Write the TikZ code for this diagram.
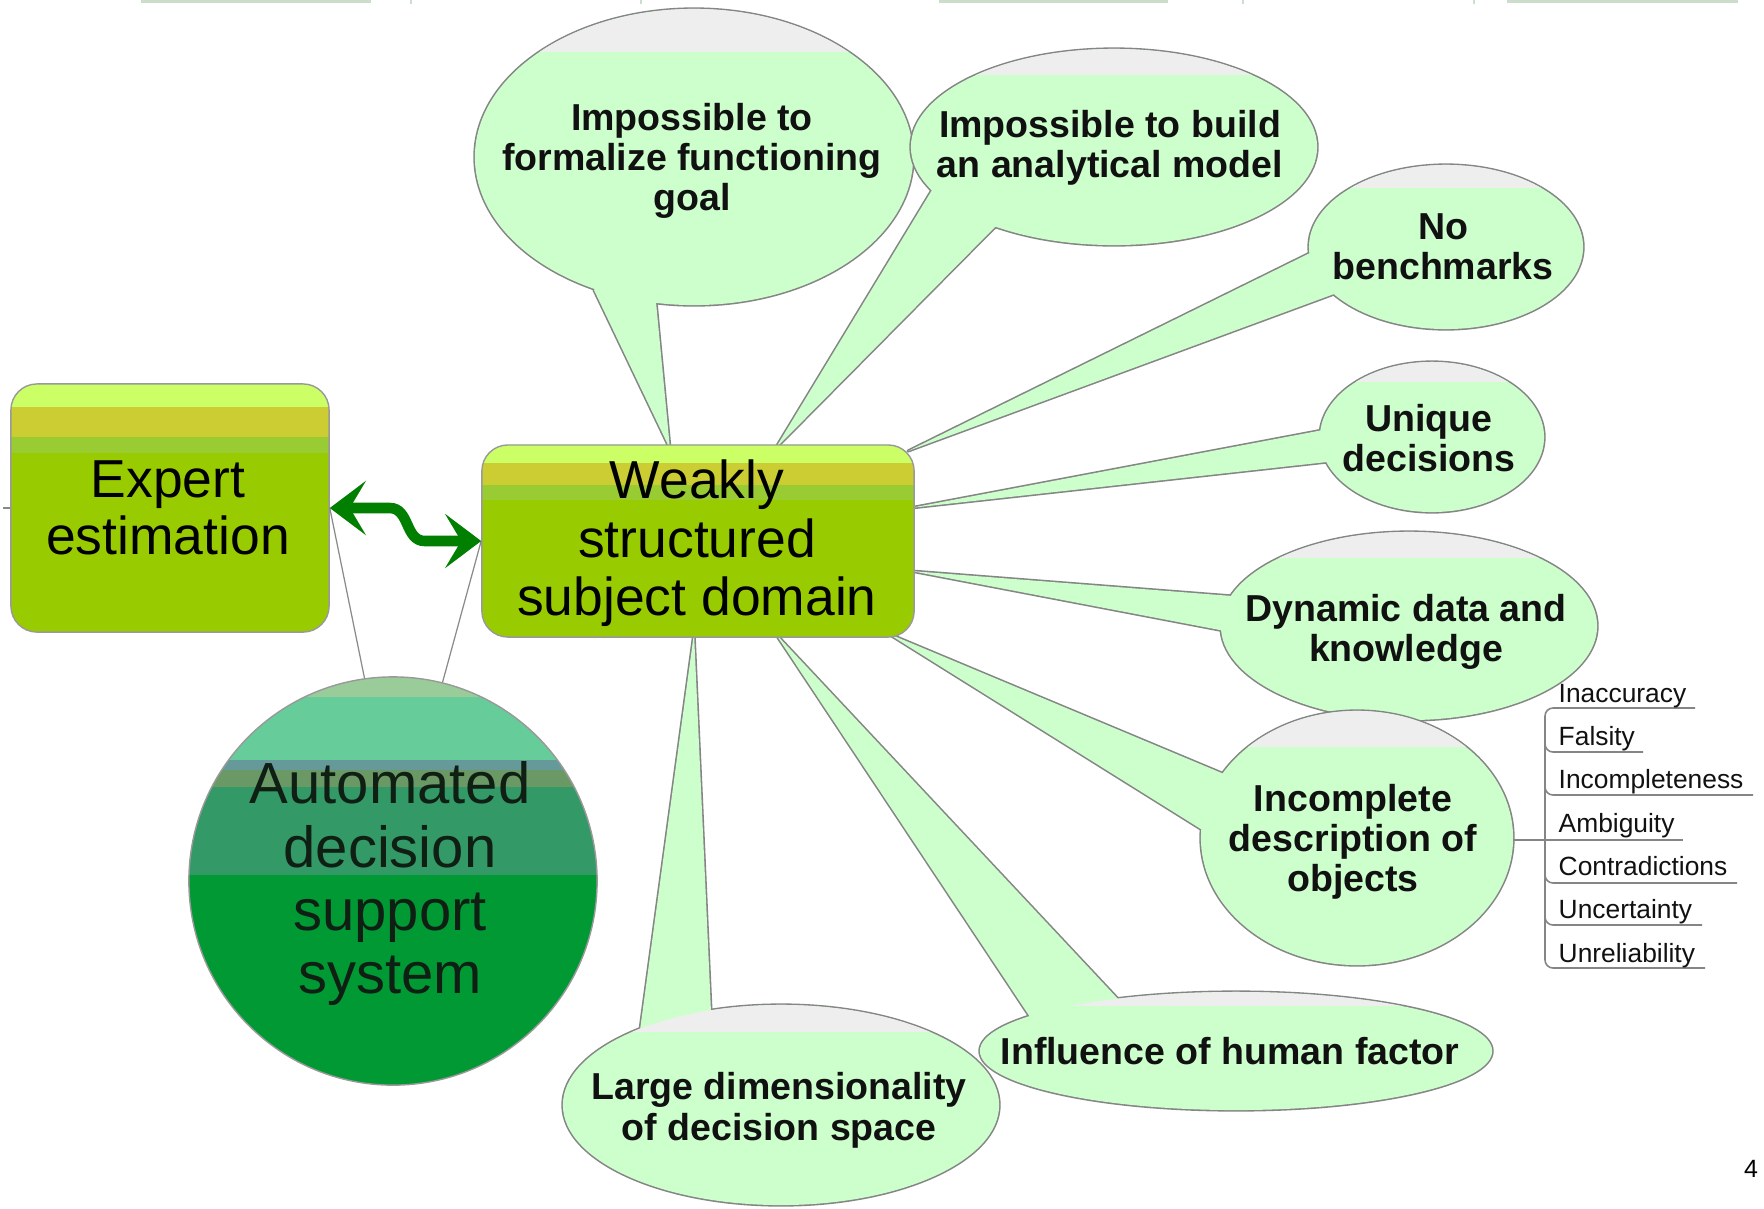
\documentclass[tikz,border=0pt]{standalone}
\usepackage{fontspec}
\setmainfont{Liberation Sans}
\usetikzlibrary{arrows.meta}
\definecolor{bub}{HTML}{CCFFCC}
\definecolor{bubtop}{HTML}{EEEEEE}
\definecolor{bubedge}{HTML}{858585}
\definecolor{boxedge}{HTML}{999999}
\definecolor{gA}{HTML}{CCFF66}
\definecolor{gB}{HTML}{CCCC33}
\definecolor{gC}{HTML}{99CC33}
\definecolor{gD}{HTML}{99CC00}
\definecolor{cA}{HTML}{99CC99}
\definecolor{cB}{HTML}{66CC99}
\definecolor{cC}{HTML}{669999}
\definecolor{cD}{HTML}{6B9966}
\definecolor{cE}{HTML}{339966}
\definecolor{cF}{HTML}{009933}
\definecolor{arrowgreen}{HTML}{007F00}
\definecolor{topbar}{HTML}{CCDDCC}
\definecolor{txt}{HTML}{111111}
\newcommand{\mybubble}[8]{%
  \path[bubline] (#1,#2) ellipse [x radius=#3cm, y radius=#4cm];
  \path[bubline] #5 -- #6 -- (#1,#2) -- #7 -- cycle;
  \path[fill=bub] (#1,#2) ellipse [x radius=#3cm, y radius=#4cm];
  \path[fill=bub] #5 -- #6 -- (#1,#2) -- #7 -- cycle;
  \begin{scope}
    \clip (#1,#2) ellipse [x radius=#3cm, y radius=#4cm];
    \fill[bubtop] (0,0) rectangle (1764,#8);
  \end{scope}}
\begin{document}
\begin{tikzpicture}[x=0.01cm,y=-0.01cm,
  bubline/.style={draw=bubedge, line width=0.9pt, fill=bub, line join=round},
  bt/.style={font=\fontsize{10.67}{11.4}\selectfont\bfseries, inner sep=0, anchor=base, text=txt},
  mt/.style={font=\fontsize{15.2}{16.4}\selectfont, inner sep=0, anchor=base, text=black},
  autxt/.style={font=\fontsize{16.5}{17.9}\selectfont, inner sep=0, anchor=base, text=txt!90!cF},
  lt/.style={font=\fontsize{7.5}{8.5}\selectfont, inner sep=0, anchor=base west, text=txt},
  gline/.style={draw=boxedge!90!black, line width=0.35pt},
  lst/.style={draw=bubedge, line width=0.45pt},
  band/.style={sharp corners},
  ebox/.style={rectangle, rounded corners=0.26cm, draw=boxedge, line width=0.4pt, fill=gD, inner sep=0},
  garrow/.style={draw=arrowgreen, line width=3pt,
    {Stealth[length=0.36cm,width=0.54cm,inset=0.16cm]}-{Stealth[length=0.36cm,width=0.54cm,inset=0.16cm]}}
]
\useasboundingbox (0,0) rectangle (1764,1208);
\fill[white] (0,0) rectangle (1764,1208);

% remnants at the top edge
\fill[topbar] (141,0) rectangle (371,2.5);
\fill[topbar] (410,0) rectangle (412,4);
\fill[topbar] (640,0) rectangle (642,4);
\fill[topbar] (939,0) rectangle (1168,2.5);
\fill[topbar] (1242,0) rectangle (1244,4);
\fill[topbar] (1473,0) rectangle (1475,4);
\fill[topbar] (1507,0) rectangle (1738,2.5);

% callout bubbles
\mybubble{694}{157}{2.19}{1.48}{(670,449)}{(594,290)}{(656,302)}{52}
\mybubble{1114}{147}{2.03}{0.98}{(775,449)}{(932,190)}{(995,227)}{75}
\mybubble{1446}{247}{1.37}{0.82}{(908,451)}{(1312,252)}{(1334,294)}{188}
\mybubble{1432}{437}{1.12}{0.75}{(910,508)}{(1323,430)}{(1327,462)}{382}
\mybubble{1409}{626}{1.88}{0.94}{(911,571)}{(1232,596)}{(1225,631)}{558}
\mybubble{1357}{838}{1.56}{1.27}{(887,633)}{(1224,774)}{(1204,831)}{747}
\mybubble{1236}{1051}{2.56}{0.59}{(775,633)}{(1030,1017)}{(1119,1000)}{1006}
\mybubble{781}{1105}{2.18}{1.00}{(694,633)}{(640,1030)}{(711,1012)}{1032}

% bubble texts
\node[bt] (b1a) at (692,130) {Impossible to};
\node[bt] (b1b) at (692,170) {formalize functioning};
\node[bt] (b1c) at (692,210) {goal};
\node[bt] (b2a) at (1110,137) {Impossible to build};
\node[bt] (b2b) at (1110,177) {an analytical model};
\node[bt] (b3a) at (1443,239) {No};
\node[bt] (b3b) at (1443,279) {benchmarks};
\node[bt] (b4a) at (1429,431) {Unique};
\node[bt] (b4b) at (1429,471) {decisions};
\node[bt] (b5a) at (1406,621) {Dynamic data and};
\node[bt] (b5b) at (1406,661) {knowledge};
\node[bt] (b6a) at (1353,811) {Incomplete};
\node[bt] (b6b) at (1353,851) {description of};
\node[bt] (b6c) at (1353,891) {objects};
\node[bt] (b7a) at (1230,1064) {Influence of human factor};
\node[bt] (b8a) at (779,1099) {Large dimensionality};
\node[bt] (b8b) at (779,1140) {of decision space};

% boxes
\node[ebox, minimum width=3.18cm, minimum height=2.48cm, path picture={
  \fill[gA, band] (path picture bounding box.north west) rectangle ([yshift=-0.23cm]path picture bounding box.north east);
  \fill[gB, band] ([yshift=-0.23cm]path picture bounding box.north west) rectangle ([yshift=-0.53cm]path picture bounding box.north east);
  \fill[gC, band] ([yshift=-0.53cm]path picture bounding box.north west) rectangle ([yshift=-0.69cm]path picture bounding box.north east);
}] (ee) at (170,508) {};
\node[ebox, minimum width=4.32cm, minimum height=1.92cm, path picture={
  \fill[gA, band] (path picture bounding box.north west) rectangle ([yshift=-0.18cm]path picture bounding box.north east);
  \fill[gB, band] ([yshift=-0.18cm]path picture bounding box.north west) rectangle ([yshift=-0.40cm]path picture bounding box.north east);
  \fill[gC, band] ([yshift=-0.40cm]path picture bounding box.north west) rectangle ([yshift=-0.55cm]path picture bounding box.north east);
}] (ws) at (698,541) {};
\node[circle, draw=boxedge, line width=0.4pt, fill=cF, minimum size=4.08cm, inner sep=0, path picture={
  \fill[cA, band] (path picture bounding box.north west) rectangle ([yshift=-0.20cm]path picture bounding box.north east);
  \fill[cB, band] ([yshift=-0.20cm]path picture bounding box.north west) rectangle ([yshift=-0.83cm]path picture bounding box.north east);
  \fill[cC, band] ([yshift=-0.83cm]path picture bounding box.north west) rectangle ([yshift=-0.93cm]path picture bounding box.north east);
  \fill[cD, band] ([yshift=-0.93cm]path picture bounding box.north west) rectangle ([yshift=-1.10cm]path picture bounding box.north east);
  \fill[cE, band] ([yshift=-1.10cm]path picture bounding box.north west) rectangle ([yshift=-1.98cm]path picture bounding box.north east);
}] (ad) at (393,881) {};

% box texts
\node[mt] (e1) at (168,497) {Expert};
\node[mt] (e2) at (168,554) {estimation};
\node[mt] (w1) at (697,498) {Weakly};
\node[mt] (w2) at (697,557) {structured};
\node[mt] (w3) at (697,615) {subject domain};
\node[autxt] (a1) at (390,803) {Automated};
\node[autxt] (a2) at (390,867) {decision};
\node[autxt] (a3) at (390,930) {support};
\node[autxt] (a4) at (390,993) {system};

% thin connectors
\draw[gline] (ad.98.4) -- (ee.east);
\draw[gline] (ad.76.4) -- (ws.west);
\draw[gline] (ee.west) -- ++(-7,0);

% wavy double arrow
\draw[garrow] (ee.east) -- ++(60,0) .. controls +(20,0) and +(-20,0) .. ++(35,33) -- (ws.west);

% list of properties
\coordinate (b6r) at (1513,840);
\draw[lst] (1695,708) -- (1553,708) to[out=180,in=90] (1545,716) -- (1545,960) to[out=-90,in=180] (1553,968) -- (1705,968);
\draw[lst] (1545,744) to[out=-90,in=180] (1553,752) -- (1643,752);
\draw[lst] (1545,787) to[out=-90,in=180] (1553,795) -- (1753,795);
\draw[lst] (b6r) -- (1683,840);
\draw[lst] (1545,875) to[out=-90,in=180] (1553,883) -- (1737,883);
\draw[lst] (1545,917) to[out=-90,in=180] (1553,925) -- (1702,925);
\node[lt] (l1) at (1558,702) {Inaccuracy};
\node[lt] (l2) at (1558,745) {Falsity};
\node[lt] (l3) at (1558,788) {Incompleteness};
\node[lt] (l4) at (1558,832) {Ambiguity};
\node[lt] (l5) at (1558,875) {Contradictions};
\node[lt] (l6) at (1558,918) {Uncertainty};
\node[lt] (l7) at (1558,962) {Unreliability};

% page number
\node[font=\fontsize{7.1}{8}\selectfont, inner sep=0, anchor=base] (pg) at (1751,1177) {4};
\end{tikzpicture}
\end{document}
